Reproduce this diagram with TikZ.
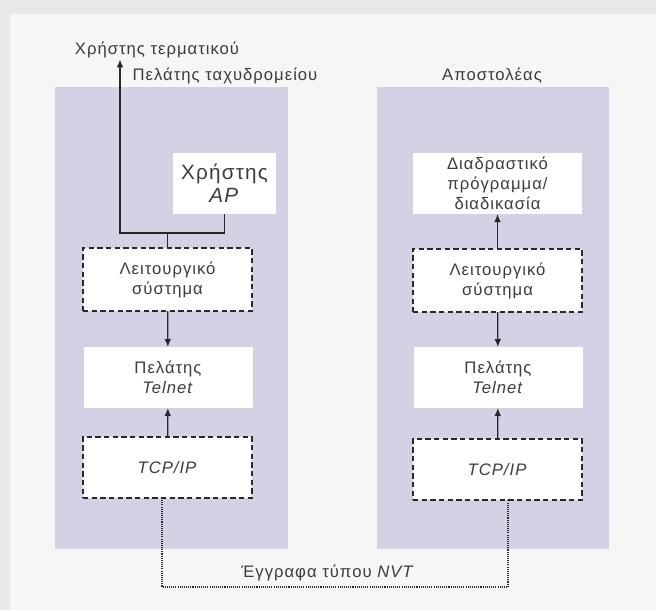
\documentclass[tikz,border=0pt]{standalone}
\usepackage{fontspec}
\setmainfont{Liberation Sans}[LetterSpace=6]
\usetikzlibrary{arrows.meta}
\definecolor{pagebg}{RGB}{245,247,246}
\definecolor{shadebg}{RGB}{232,233,233}
\definecolor{panelbg}{RGB}{213,208,227}
\definecolor{inktext}{RGB}{60,60,60}
\definecolor{inkline}{RGB}{40,40,40}
\begin{document}
\begin{tikzpicture}[x=0.75pt,y=0.75pt,yscale=-1,xscale=1,
  txt/.style={text=inktext,inner sep=0.75pt,font=\fontsize{12.5}{15}\selectfont,align=center},
  box/.style={txt,fill=white,inner sep=0pt,outer sep=0pt,minimum width=126.75pt,minimum height=45.75pt},
  dbox/.style={box,draw=inkline,line width=1pt,dash pattern=on 4pt off 2.5pt},
  conn/.style={draw=inkline,line width=1pt,-{Latex[length=6pt,width=5pt]}},
  nvt/.style={draw=inkline,line width=1.3pt,dash pattern=on 0.8pt off 0.8pt}]
% background and shadow
\fill[shadebg] (0,0) rectangle (656,610);
\fill[pagebg] (10,14) rectangle (656,610);
\useasboundingbox (0,0) rectangle (656,610);
% the two hosts
\fill[panelbg] (55,87) rectangle (288,549);
\fill[panelbg] (377,87) rectangle (609,549);
\node[txt] (term) at (157,50) {Χρήστης τερματικού};
\node[txt] (mailc) at (225,76) {Πελάτης ταχυδρομείου};
\node[txt] (sender) at (492,76) {Αποστολέας};
% left stack
\node[box,minimum width=77.25pt,font=\fontsize{15.5}{17.5}\selectfont] (apL) at (224.5,183.5) {Χρήστης\\\textit{AP}};
\node[dbox,minimum height=47.25pt] (osL) at (167.5,279.5) {Λειτουργικό\\σύστημα};
\node[box] (telL) at (168,377.5) {Πελάτης\\\textit{Telnet}};
\node[dbox] (tcpL) at (167.5,467.5) {\textit{TCP/IP}};
% right stack
\node[box] (prog) at (497.5,183.5) {Διαδραστικό\\πρόγραμμα/\\διαδικασία};
\node[dbox,minimum height=47.25pt] (osR) at (497.5,280.5) {Λειτουργικό\\σύστημα};
\node[box] (telR) at (498,377.5) {Πελάτης\\\textit{Telnet}};
\node[dbox] (tcpR) at (497.5,469.5) {\textit{TCP/IP}};
% connectors
\coordinate (turn) at (120,233);
\draw[conn,line width=1.3pt] (apL.south) |- (turn) -- (turn |- term.south);
\draw[draw=inkline,line width=1.3pt] (osL.north) -- (osL.north |- turn);
\draw[conn] (osL) -- (telL);
\draw[conn] (tcpL) -- (telL);
\draw[conn] (osR) -- (prog);
\draw[conn] (osR) -- (telR);
\draw[conn] (tcpR) -- (telR);
% NVT path
\coordinate (nvtL) at (162,587);
\coordinate (nvtR) at (508,587);
\draw[nvt] (tcpL.south -| nvtL) -- (nvtL) -- (nvtR) -- (tcpR.south -| nvtR);
\node[txt] (nvtlab) at (328,573) {Έγγραφα τύπου \textit{NVT}};
\end{tikzpicture}
\end{document}
